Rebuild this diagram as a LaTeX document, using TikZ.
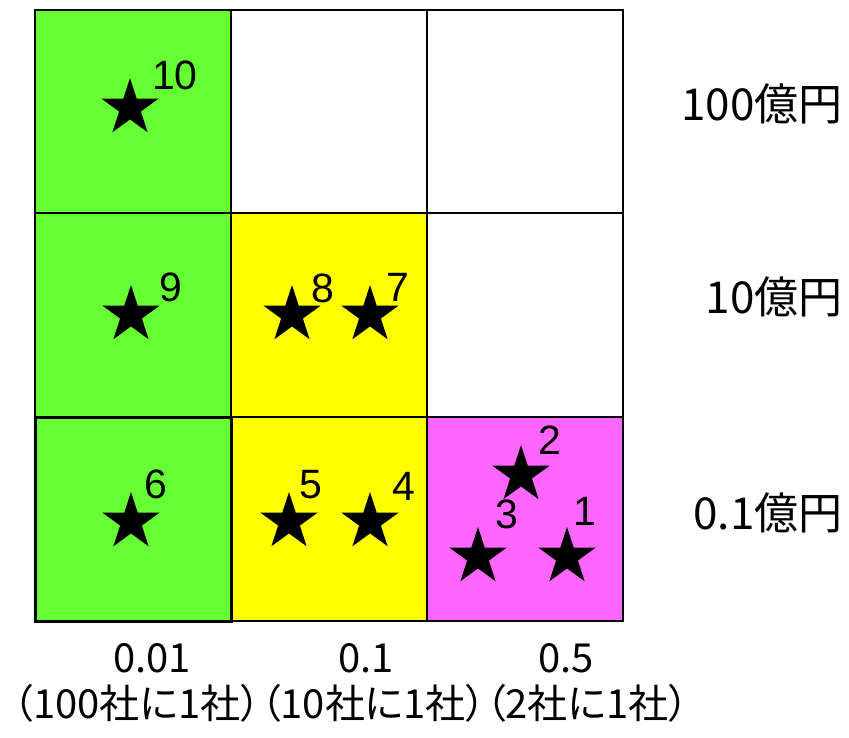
\documentclass[tikz,border=0pt]{standalone}
\usepackage{fontspec}
\setmainfont{Liberation Sans}
\newfontfamily\jpfont[RawFeature=+palt]{Noto Sans CJK JP}
\usetikzlibrary{shapes.geometric,positioning}
\definecolor{cellgreen}{HTML}{66FF33}
\definecolor{cellyellow}{HTML}{FFFF00}
\definecolor{cellpink}{HTML}{FF66FF}

\begin{document}
\begin{tikzpicture}[
    x=0.5pt, y=-0.5pt,
    cell/.style={draw=black, line width=1pt},
    firm/.style={star, star points=5, star point ratio=2.618, fill=black, inner sep=0pt, minimum size=30pt},
    num/.style={font=\fontsize{20.5}{22}\selectfont, inner sep=0pt},
    amount/.style={font=\jpfont\fontsize{22}{24}\selectfont, anchor=east, inner sep=0pt},
    ratio/.style={font=\jpfont\fontsize{20}{22}\selectfont, inner sep=0pt}
]
\useasboundingbox (0,0) rectangle (849,737);

% cells
\filldraw[cell, fill=cellgreen]  (35,10)   rectangle (231,213);
\filldraw[cell, fill=white]      (231,10)  rectangle (427,213);
\filldraw[cell, fill=white]      (427,10)  rectangle (623,213);
\filldraw[cell, fill=cellgreen]  (35,213)  rectangle (231,417);
\filldraw[cell, fill=cellyellow] (231,213) rectangle (427,417);
\filldraw[cell, fill=white]      (427,213) rectangle (623,417);
\filldraw[cell, fill=cellyellow] (231,417) rectangle (427,621);
\filldraw[cell, fill=cellpink]   (427,417) rectangle (623,621);
\filldraw[cell, fill=cellgreen, line width=1.5pt] (35,417) rectangle (231,621);

% stars
\node (s10) [firm] at (130,108) {};
\node (s9)  [firm] at (131,315) {};
\node (s8)  [firm] at (292,315) {};
\node (s7)  [firm] at (370,315) {};
\node (s6)  [firm] at (131,522) {};
\node (s5)  [firm] at (289,522) {};
\node (s4)  [firm] at (370,522) {};
\node (s2)  [firm] at (521,475) {};
\node (s3)  [firm] at (478,557) {};
\node (s1)  [firm] at (567,557) {};

\node (n10) [num] at (175,75)  {10};
\node (n9)  [num] at (171,287) {9};
\node (n8)  [num] at (323,288) {8};
\node (n7)  [num] at (398,287) {7};
\node (n6)  [num] at (156,484) {6};
\node (n5)  [num] at (311,485) {5};
\node (n4)  [num] at (404,486) {4};
\node (n2)  [num] at (550,440) {2};
\node (n3)  [num] at (507,514) {3};
\node (n1)  [num] at (585,511) {1};

% axis labels
\node (a100) [amount] at (843,104) {100億円};
\node (a10)  [amount] at (843,297) {10億円};
\node (a01)  [amount] at (843,513) {0.1億円};

\node (p001) [ratio] at (152,658) {0.01};
\node (p01)  [ratio] at (366,658) {0.1};
\node (p05)  [ratio] at (566,658) {0.5};
\node (pnote) [ratio] at (351,703) {（100社に1社）（10社に1社）（2社に1社）};

\end{tikzpicture}
\end{document}
